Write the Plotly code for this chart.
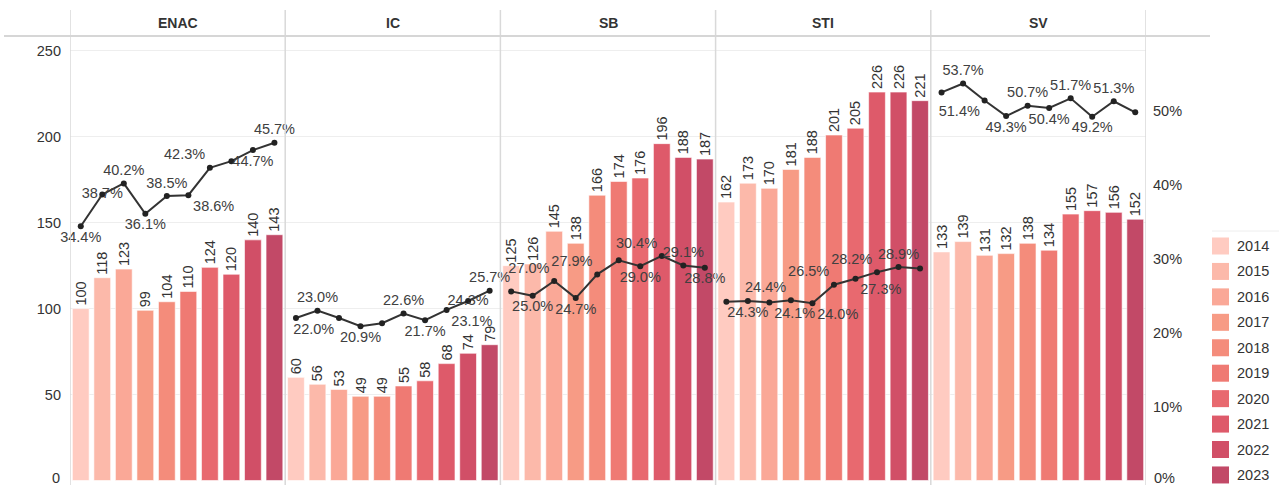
import plotly.graph_objects as go

# ---------------- data ----------------
schools = ["ENAC", "IC", "SB", "STI", "SV"]
years = ["2014", "2015", "2016", "2017", "2018", "2019", "2020", "2021", "2022", "2023"]

enac_counts = [100, 118, 123, 99, 104, 110, 124, 120, 140, 143]
ic_counts = [60, 56, 53, 49, 49, 55, 58, 68, 74, 79]
sb_counts = [125, 126, 145, 138, 166, 174, 176, 196, 188, 187]
sti_counts = [162, 173, 170, 181, 188, 201, 205, 226, 226, 221]
sv_counts = [133, 139, 131, 132, 138, 134, 155, 157, 156, 152]

enac_share = [34.4, 38.7, 40.2, 36.1, 38.5, 38.6, 42.3, 43.2, 44.7, 45.7]
ic_share = [22.0, 23.0, 22.0, 20.9, 21.3, 22.6, 21.7, 23.1, 24.3, 25.7]
sb_share = [25.6, 25.0, 27.0, 24.7, 27.9, 29.8, 29.0, 30.4, 29.1, 28.8]
sti_share = [24.2, 24.3, 24.1, 24.4, 24.0, 26.5, 27.3, 28.2, 28.9, 28.7]
sv_share = [52.5, 53.7, 51.4, 49.3, 50.7, 50.4, 51.7, 49.2, 51.3, 49.8]

left_ticks = [50, 100, 150, 200, 250]
right_ticks = [0.1, 0.2, 0.3, 0.4, 0.5]

# ---------------- styles ----------------
year_colors = ["#FFCBC1", "#FCB9AA", "#FAA897", "#F79B85", "#F48C7B",
               "#EF7A73", "#E8696F", "#DE5A6A", "#D14F67", "#C24967"]

T, B = "top center", "bottom center"
TL, BR, BL = "top left", "bottom right", "bottom left"
MC = "middle center"
enac_pos = [B, MC, T, B, T, BR, TL, None, B, T]
ic_pos = [None, T, BL, B, None, T, B, BR, MC, T]
sb_pos = [None, B, TL, B, TL, None, B, TL, T, B]
sti_pos = [None, B, BR, TL, BR, TL, BR, TL, T, None]
sv_pos = [None, T, BL, B, T, B, T, B, T, None]

counts = [enac_counts, ic_counts, sb_counts, sti_counts, sv_counts]
shares = [enac_share, ic_share, sb_share, sti_share, sv_share]
positions = [enac_pos, ic_pos, sb_pos, sti_pos, sv_pos]

W, H = 1279, 485
ML, MR, MT, MB = 70, 133, 37, 0
PW = W - ML - MR
PH = H - MT - MB
NY = len(years)


def px_to_paper_x(px):
    return (px - ML) / PW


def px_to_paper_y(py):
    return (H - MB - py) / PH


FONT = "Liberation Sans, Arial, sans-serif"

fig = go.Figure()

# bars: one trace per year, one bar in each school facet
for yi, yr in enumerate(years):
    xs = [si * NY + yi for si in range(len(schools))]
    vals = [counts[si][yi] for si in range(len(schools))]
    fig.add_trace(go.Bar(
        x=xs, y=vals, width=0.78, name=yr,
        marker=dict(color=year_colors[yi], line=dict(color="white", width=0.6)),
        text=[str(v) for v in vals], textposition="outside", textangle=-90,
        textfont=dict(family=FONT, size=14.5, color="#333333"),
        constraintext="none", cliponaxis=False, showlegend=False,
        hoverinfo="skip",
    ))

# share lines, one per facet
for si, sc in enumerate(schools):
    xs = [si * NY + yi for yi in range(NY)]
    ys = [v / 100 for v in shares[si]]
    txt = [f"{v:.1f}%" if p else "" for v, p in zip(shares[si], positions[si])]
    tpos = [p if p else T for p in positions[si]]
    fig.add_trace(go.Scatter(
        x=xs, y=ys, yaxis="y2", mode="lines+markers+text",
        line=dict(color="#333333", width=2),
        marker=dict(color="#222222", size=6),
        text=txt, textposition=tpos,
        textfont=dict(family=FONT, size=14.5, color="#404040"),
        cliponaxis=False, showlegend=False, hoverinfo="skip",
    ))

shapes = []
annotations = []

# facet dividers and header line
for k in range(len(schools) + 1):
    xv = k * NY - 0.5
    shapes.append(dict(type="line", xref="x", yref="paper", x0=xv, x1=xv,
                       y0=-0.05, y1=px_to_paper_y(10),
                       line=dict(color="#d9d9d9", width=1.5), layer="above"))
shapes.append(dict(type="line", xref="paper", yref="paper",
                   x0=px_to_paper_x(4), x1=px_to_paper_x(1210),
                   y0=px_to_paper_y(36), y1=px_to_paper_y(36),
                   line=dict(color="#d6d6d6", width=2), layer="above"))

for si, sc in enumerate(schools):
    annotations.append(dict(x=si * NY + (NY - 1) / 2, xref="x",
                            y=px_to_paper_y(23), yref="paper",
                            text=sc, showarrow=False, xanchor="center", yanchor="middle",
                            font=dict(family=FONT, size=14, color="#333333", weight="bold")))

# zero labels (clipped at window bottom in reference)
annotations.append(dict(x=0, xref="paper", y=px_to_paper_y(478), yref="paper", text="0",
                        showarrow=False, xanchor="right", yanchor="middle", xshift=-8,
                        font=dict(family=FONT, size=14.5, color="#333333")))
annotations.append(dict(x=1, xref="paper", y=px_to_paper_y(478), yref="paper", text="0%",
                        showarrow=False, xanchor="left", yanchor="middle", xshift=6,
                        font=dict(family=FONT, size=14.5, color="#333333")))

# legend (custom, square swatches)
leg_x0 = px_to_paper_x(1212)
leg_x1 = px_to_paper_x(1229)
leg_tx = px_to_paper_x(1235)
shapes.append(dict(type="line", xref="paper", yref="paper",
                   x0=leg_x0, x1=px_to_paper_x(1279),
                   y0=px_to_paper_y(231), y1=px_to_paper_y(231),
                   line=dict(color="#eeeeee", width=1)))
for yi, yr in enumerate(years):
    cy = 246 + 25.44 * yi
    shapes.append(dict(type="rect", xref="paper", yref="paper",
                       x0=leg_x0, x1=leg_x1,
                       y0=px_to_paper_y(cy + 8.5), y1=px_to_paper_y(cy - 8.5),
                       fillcolor=year_colors[yi], line=dict(width=0)))
    annotations.append(dict(x=leg_tx, xref="paper", y=px_to_paper_y(cy), yref="paper",
                            text=yr, showarrow=False, xanchor="left", yanchor="middle",
                            font=dict(family=FONT, size=14.5, color="#333333")))

# axis ranges calibrated: 0 at ~489.6px (below window), 250 at ~53px
y_px_per_unit = 1.754
y_zero_px = 489.6
y_top = (y_zero_px - MT) / y_px_per_unit
y_bot = -(y_zero_px - (H - MB)) / y_px_per_unit
y2_px_per_unit = 754.0
y2_zero_px = 489.3
y2_top = (y2_zero_px - MT) / y2_px_per_unit
y2_bot = -(y2_zero_px - (H - MB)) / y2_px_per_unit

fig.update_layout(
    width=W, height=H,
    margin=dict(l=ML, r=MR, t=MT, b=MB),
    paper_bgcolor="white", plot_bgcolor="white",
    barmode="overlay",
    font=dict(family=FONT, color="#333333"),
    xaxis=dict(range=[-0.5, len(schools) * NY - 0.5], showgrid=False, zeroline=False,
               showticklabels=False, ticks="", showline=False),
    yaxis=dict(range=[y_bot, y_top], tickvals=left_ticks, showgrid=True,
               gridcolor="#eeeeee", gridwidth=1, zeroline=False, showline=False,
               ticks="", ticklabelstandoff=8,
               tickfont=dict(family=FONT, size=14.5, color="#333333")),
    yaxis2=dict(range=[y2_bot, y2_top], overlaying="y", side="right",
                tickvals=right_ticks, tickformat=".0%", showgrid=False,
                zeroline=False, showline=False, ticks="", ticklabelstandoff=6,
                tickfont=dict(family=FONT, size=14.5, color="#333333")),
    shapes=shapes, annotations=annotations,
    showlegend=False,
)

fig.write_html(
    "out.html",
    config={"displayModeBar": False},
    post_script="document.body.style.margin='0px';document.body.style.padding='0px';document.body.style.overflow='hidden';",
)
